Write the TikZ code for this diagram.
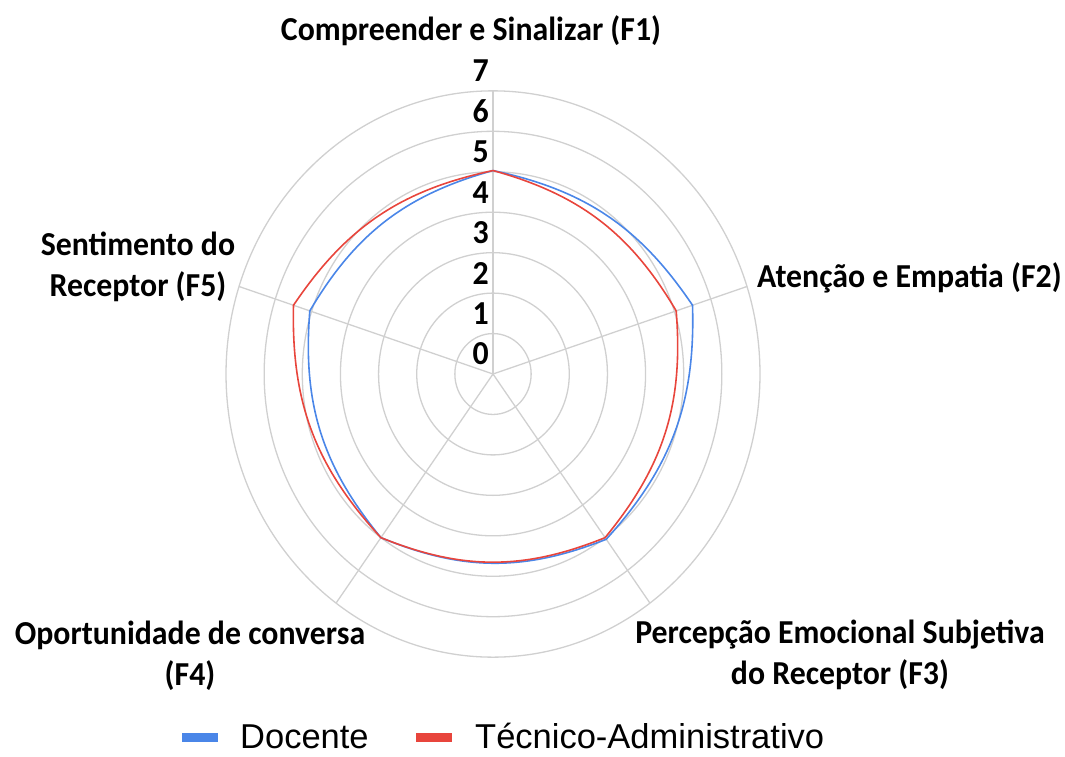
\documentclass[tikz,border=0pt]{standalone}
\usepackage{fontspec}
\setmainfont{Carlito}[FakeStretch=0.95]
\newfontfamily\legfont{Liberation Sans}
\definecolor{docblue}{HTML}{4A86E8}
\definecolor{tecred}{HTML}{E8453C}
\definecolor{gridgray}{HTML}{D0D0D0}
\begin{document}
\begin{tikzpicture}[x=1pt,y=1pt,
  grid/.style={draw=gridgray, line width=1.3pt},
  axlab/.style={font=\fontsize{33.5}{41}\selectfont\bfseries, align=center, inner sep=0pt},
  numlab/.style={font=\fontsize{33.5}{34}\selectfont\bfseries, anchor=east, inner sep=0pt},
  doc/.style={draw=docblue, line width=1.6pt},
  tec/.style={draw=tecred, line width=1.6pt},
  legtext/.style={font=\legfont\fontsize{34.5}{36}\selectfont, anchor=base west, inner sep=0pt}]
\useasboundingbox (0,0) rectangle (1065,-756);
\def\rx{38.14}
\def\ry{40.45}
\coordinate (O) at (493,-374);
\foreach \k in {1,...,7} \draw[grid] (O) ellipse [x radius=\k*\rx, y radius=\k*\ry];
\foreach \a [count=\i] in {90,18,-54,-126,162}
  \draw[grid] (O) -- ++({7*\rx*cos(\a)},{7*\ry*sin(\a)}) coordinate (S\i);
\foreach \v in {0,...,7}
  \node[numlab] (n\v) at (489,{-374+\v*\ry+20}) {\v};
% data points
\foreach \a/\b/\t [count=\i] in {90/5.03/5.03, 18/5.5/5.05, -54/5.05/5.0, -126/5.0/5.0, 162/5.05/5.5}{
  \coordinate (B\i) at ({493+\b*\rx*cos(\a)},{-374+\b*\ry*sin(\a)});
  \coordinate (R\i) at ({493+\t*\rx*cos(\a)},{-374+\t*\ry*sin(\a)});
}
\draw[doc] (B1) to[bend left=22] (B2) to[bend left=22] (B3) to[bend left=22] (B4) to[bend left=22] (B5) to[bend left=22] (B1);
\draw[tec] (R1) to[bend left=22] (R2) to[bend left=22] (R3) to[bend left=22] (R4) to[bend left=22] (R5) to[bend left=22] (R1);
% axis labels
\node[axlab] (L1) at (471,-31) {Compreender e Sinalizar (F1)};
\node[axlab, anchor=west] (L2) at (757,-278) {Atenção e Empatia (F2)};
\node[axlab] (L3) at (840,-655) {Percepção Emocional Subjetiva\\do Receptor (F3)};
\node[axlab] (L4) at (190,-656) {Oportunidade de conversa\\(F4)};
\node[axlab] (L5) at (138,-267) {Sentimento do\\Receptor (F5)};
% legend
\fill[docblue] (182,-733) rectangle (218,-742);
\node[legtext] (g1) at (240,-748) {Docente};
\fill[tecred] (416,-733) rectangle (452,-742);
\node[legtext] (g2) at (475,-748) {Técnico-Administrativo};
\end{tikzpicture}
\end{document}
